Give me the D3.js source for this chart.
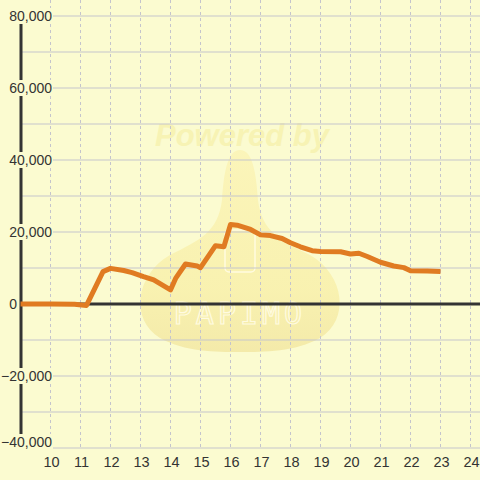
<!DOCTYPE html>
<html>
<head>
<meta charset="utf-8">
<script src="https://cdn.jsdelivr.net/npm/d3@7"></script>
<style>
  html, body { margin: 0; padding: 0; background: #fbfbd0; }
  svg { display: block; font-family: "Liberation Sans", Arial, sans-serif; }
</style>
</head>
<body>
<svg id="chart" width="480" height="480"></svg>
<script>
// hours of day, value
const hours = [9, 10, 10.8, 11.2, 11.75, 12.0, 12.44, 12.72, 13.1, 13.44, 14.0, 14.17, 14.5, 14.89,
  15.0, 15.5, 15.78, 16.0, 16.22, 16.67, 17.0, 17.33, 17.72, 18.0, 18.33, 18.72, 19.0, 19.67,
  20.0, 20.28, 20.56, 21.0, 21.44, 21.78, 22.0, 22.56, 23.0];
const values = [0, 0, -50, -400, 9000, 9900, 9300, 8700, 7600, 6700, 3900, 7100, 11100, 10550,
  10100, 16200, 15900, 22100, 21900, 20700, 19200, 19000, 18200, 17000, 15900, 14800, 14600, 14500,
  13900, 14100, 13200, 11600, 10550, 10100, 9250, 9170, 9000];
const xTicks = [10, 11, 12, 13, 14, 15, 16, 17, 18, 19, 20, 21, 22, 23, 24];
const yTicks = [-40000, -20000, 0, 20000, 40000, 60000, 80000];
const yGrid = [-40000, -30000, -20000, -10000, 10000, 20000, 30000, 40000, 50000, 60000, 70000, 80000];

const svg = d3.select('#chart');
const W = 480;
const x = d3.scaleLinear().domain([9, 24]).range([20.5, 470.5]);
const y = d3.scaleLinear().domain([-40000, 80000]).range([448, 16]);

// watermark
const wm = svg.append('g').attr('class', 'watermark');
const grad = svg.append('defs').append('linearGradient')
  .attr('id', 'drop').attr('x1', 0).attr('x2', 0).attr('y1', 0).attr('y2', 1);
grad.append('stop').attr('offset', '0%').attr('stop-color', '#fbf3b4');
grad.append('stop').attr('offset', '70%').attr('stop-color', '#f8efa8');
grad.append('stop').attr('offset', '100%').attr('stop-color', '#f2e6a0');
wm.append('path')
  .attr('d', 'M240,150 C252,150 256,170 258,200 C262,232 280,240 310,255 C345,275 350,320 320,338 C295,352 265,352 240,352 C215,352 185,352 160,338 C130,320 135,275 170,255 C200,240 218,232 222,200 C224,170 228,150 240,150 Z')
  .attr('fill', 'url(#drop)')
  .attr('opacity', 0.8);
wm.append('rect')
  .attr('x', 225).attr('y', 230).attr('width', 30).attr('height', 42).attr('rx', 4)
  .attr('fill', 'none').attr('stroke', '#fffbe0').attr('stroke-width', 1.5);
wm.append('text')
  .attr('x', 240).attr('y', 324)
  .attr('text-anchor', 'middle')
  .attr('font-family', '"DejaVu Sans Mono", monospace')
  .attr('font-size', 30)
  .attr('letter-spacing', 4)
  .attr('fill', 'none')
  .attr('stroke', '#fffbe0')
  .attr('stroke-width', 1.2)
  .text('PAPIMO');
wm.append('text')
  .attr('x', 242).attr('y', 146)
  .attr('text-anchor', 'middle')
  .attr('font-size', 31)
  .attr('font-weight', 'bold')
  .attr('font-style', 'italic')
  .attr('fill', '#f6eea2')
  .attr('opacity', 0.6)
  .text('Powered by');

// horizontal grid
svg.append('g')
  .selectAll('line')
  .data(yGrid)
  .join('line')
  .attr('x1', 21).attr('x2', W)
  .attr('y1', d => y(d)).attr('y2', d => y(d))
  .attr('stroke', '#c6c6cc')
  .attr('stroke-width', 1.2);

// vertical dotted grid
svg.append('g')
  .selectAll('line')
  .data(xTicks)
  .join('line')
  .attr('x1', d => x(d)).attr('x2', d => x(d))
  .attr('y1', 0).attr('y2', y(-40000))
  .attr('stroke', '#c4c4cc')
  .attr('stroke-width', 1)
  .attr('stroke-dasharray', '3,3');

// y axis line
svg.append('line')
  .attr('x1', 21).attr('x2', 21)
  .attr('y1', 24).attr('y2', 447)
  .attr('stroke', '#333')
  .attr('stroke-width', 3);

// zero line
svg.append('line')
  .attr('x1', 21).attr('x2', W)
  .attr('y1', y(0)).attr('y2', y(0))
  .attr('stroke', '#333')
  .attr('stroke-width', 3);

// y labels with background boxes (the zero label sits left of the axis)
const fmt = d3.format(',');
const labelRight = d => (d === 0 ? 17 : 52);
const yl = svg.append('g').selectAll('g')
  .data(yTicks)
  .join('g')
  .attr('transform', d => `translate(0,${d === -40000 ? y(d) - 6 : y(d)})`);
yl.append('rect')
  .attr('x', 0).attr('y', -8).attr('width', d => labelRight(d) + 1).attr('height', 16)
  .attr('fill', '#fbfbd0');
yl.append('text')
  .attr('x', labelRight).attr('y', 5)
  .attr('text-anchor', 'end')
  .attr('font-size', 14)
  .attr('fill', '#333')
  .text(d => fmt(d));

// x labels
svg.append('g').selectAll('text')
  .data(xTicks)
  .join('text')
  .attr('x', d => x(d) + 1)
  .attr('y', 467)
  .attr('text-anchor', 'middle')
  .attr('font-size', 14.5)
  .attr('fill', '#333')
  .text(d => d);

// series
const line = d3.line()
  .x((d, i) => x(hours[i]))
  .y(d => y(d));
svg.append('path')
  .datum(values)
  .attr('d', line)
  .attr('fill', 'none')
  .attr('stroke', '#e07b22')
  .attr('stroke-width', 5)
  .attr('stroke-linejoin', 'round');
</script>
</body>
</html>
